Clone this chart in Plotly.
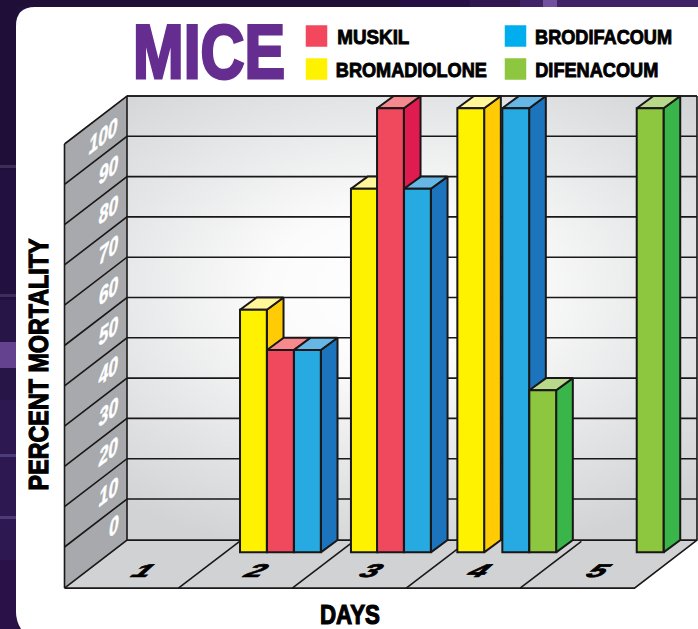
import json
import numpy as np
import plotly.graph_objects as go

# ---------- data ----------
DAYS = [1, 2, 3, 4, 5]
TICKS = [0, 10, 20, 30, 40, 50, 60, 70, 80, 90, 100]
BROMADIOLONE = [None, 50, 80, 100, None]
MUSKIL = [None, 40, 100, None, None]
BRODIFACOUM = [None, 40, 80, 100, None]
DIFENACOUM = [None, None, None, 30, 100]
SERIES_NAMES = ["BROMADIOLONE", "MUSKIL", "BRODIFACOUM", "DIFENACOUM"]
SERIES_VALUES = [BROMADIOLONE, MUSKIL, BRODIFACOUM, DIFENACOUM]
TITLE = "MICE"
X_TITLE = "DAYS"
Y_TITLE = "PERCENT MORTALITY"

# ---------- styles ----------
W, H = 698, 629
INK = "#1a1718"
FACE = {"BROMADIOLONE": "#fff200", "MUSKIL": "#f0495d", "BRODIFACOUM": "#27aae1", "DIFENACOUM": "#8dc63f"}
SIDE = {"BROMADIOLONE": "#ffcb05", "MUSKIL": "#e01b4f", "BRODIFACOUM": "#1c75bc", "DIFENACOUM": "#39b54a"}
TOP = {"BROMADIOLONE": "#fff799", "MUSKIL": "#f6898d", "BRODIFACOUM": "#66b7e6", "DIFENACOUM": "#b8d98a"}
SWATCH = {"BROMADIOLONE": "#fff200", "MUSKIL": "#f2475c", "BRODIFACOUM": "#00aeef", "DIFENACOUM": "#8dc63f"}
SANS = "Liberation Sans, Arial, sans-serif"

# ---------- projection, all in axis units ----------
SLOT_PX, UNIT_PX = 113.9, 4.03          # px per day slot, px per percent
LEFT_PX, ZERO_PX = 64.5, 499.0          # px of x=0, px of value 0 on the back wall
BASE = -10.2                            # value of the wall foot
TOPV = 100.0
DEPTH_X, DEPTH_Y = 62.5 / SLOT_PX, 48 / UNIT_PX     # floor depth
BAR_DX, BAR_DY = 16.7 / SLOT_PX, 3.03              # bar depth
BAR_W = 26.8 / SLOT_PX
BAR_PLANE = 0.404                       # x shift of the bar plane
# where each bar sits inside its day slot (fraction of a slot)
SLOT_POS = {2: {"BROMADIOLONE": .137, "MUSKIL": .374, "BRODIFACOUM": .611},
            3: {"BROMADIOLONE": .111, "MUSKIL": .340, "BRODIFACOUM": .577},
            4: {"BROMADIOLONE": .045, "BRODIFACOUM": .440, "DIFENACOUM": .677},
            5: {"DIFENACOUM": .620}}

xr = [-LEFT_PX / SLOT_PX, (W - LEFT_PX) / SLOT_PX]
yr = [(ZERO_PX - H) / UNIT_PX, ZERO_PX / UNIT_PX]
yr_front = [yr[0] + BAR_DY, yr[1] + BAR_DY]


def ax(px):
    return (px - LEFT_PX) / SLOT_PX


def ay(py):
    return (ZERO_PX - py) / UNIT_PX


fig = go.Figure()
LINE = dict(color=INK, width=2)


def poly(xs, ys, fill, line=None):
    fig.add_trace(go.Scatter(x=xs + xs[:1], y=ys + ys[:1], mode="lines", fill="toself", fillcolor=fill,
                             line=line or dict(width=0, color=fill), hoverinfo="skip", showlegend=False))


# back wall gradient (edges given, so that it stops exactly at the wall)
wx0, wx1 = DEPTH_X, ax(697)
ex = np.linspace(wx0, wx1, 191)
ey = np.linspace(BASE, TOPV, 149)
gxx, gyy = np.meshgrid((ex[:-1] + ex[1:]) / 2, (ey[:-1] + ey[1:]) / 2)
cx, cy = ax(395), ay(290)
dist = np.sqrt(((gxx - cx) / (wx1 - cx)) ** 2 + ((gyy - cy) / (TOPV - cy)) ** 2) / 1.414
fig.add_trace(go.Heatmap(x=ex, y=ey, z=1 - dist, zmin=0, zmax=1, showscale=False, hoverinfo="skip",
                         colorscale=[[0, "#d1d3d5"], [0.35, "#e6e7e8"], [0.7, "#fbfbfb"], [1, "#ffffff"]]))

# floor and left wall
poly([DEPTH_X, wx1, wx1 - DEPTH_X, 0], [BASE, BASE, BASE - DEPTH_Y, BASE - DEPTH_Y], "#d1d2d4")
poly([DEPTH_X, DEPTH_X, 0, 0], [BASE, TOPV, TOPV - DEPTH_Y, BASE - DEPTH_Y], "#a7a9ac")

# gridlines on the back and left walls
levels = [BASE] + TICKS
lx, ly = [], []
for v in levels:
    lx += [0, DEPTH_X, wx1, None]
    ly += [v - DEPTH_Y, v, v, None]
lx += [DEPTH_X, wx1, None, 0, 0, None, DEPTH_X, DEPTH_X, None, 0, wx1 - DEPTH_X, wx1, wx1, None]
ly += [TOPV, TOPV, None, BASE - DEPTH_Y, TOPV - DEPTH_Y, None, BASE, TOPV, None, BASE - DEPTH_Y, BASE - DEPTH_Y, BASE, TOPV, None]
for d in DAYS[:-1]:
    lx += [d, d + DEPTH_X * 0.98, None]
    ly += [BASE - DEPTH_Y, BASE - 0.3, None]
fig.add_trace(go.Scatter(x=lx, y=ly, mode="lines", line=dict(color=INK, width=1.6), hoverinfo="skip",
                         showlegend=False, connectgaps=False))

# bars: list the drawn boxes from the data
boxes = []
for i, day in enumerate(DAYS):
    for name, vals in zip(SERIES_NAMES, SERIES_VALUES):
        if vals[i] is not None:
            boxes.append((name, day - 1 + BAR_PLANE + SLOT_POS[day][name], vals[i]))
boxes.sort(key=lambda b: b[1])

for name, x0, v in boxes:
    x1 = x0 + BAR_W
    f0, f1 = BASE - BAR_DY, v - BAR_DY
    poly([x1, x1 + BAR_DX, x1 + BAR_DX, x1], [f0, f0 + BAR_DY, f1 + BAR_DY, f1], SIDE[name], LINE)
for name, x0, v in boxes:
    x1 = x0 + BAR_W
    f1 = v - BAR_DY
    poly([x0, x1, x1 + BAR_DX, x0 + BAR_DX], [f1, f1, f1 + BAR_DY, f1 + BAR_DY], TOP[name], LINE)

for name in SERIES_NAMES:
    sel = [b for b in boxes if b[0] == name]
    fig.add_trace(go.Bar(x=[b[1] + BAR_W / 2 for b in sel], y=[b[2] - BASE for b in sel], base=BASE, width=BAR_W,
                         name=name, xaxis="x2", yaxis="y2", marker=dict(color=FACE[name], line=LINE),
                         showlegend=False, hoverinfo="skip"))

# legend swatches
LEG_POS = {"MUSKIL": (316.5, 36), "BROMADIOLONE": (316.5, 69), "BRODIFACOUM": (515.5, 36), "DIFENACOUM": (515.5, 69)}
LEG_TEXT = {"MUSKIL": (373, 72), "BROMADIOLONE": (411.5, 151), "BRODIFACOUM": (603.5, 137), "DIFENACOUM": (596.5, 123)}
for name in SERIES_NAMES:
    px, py = LEG_POS[name]
    fig.add_trace(go.Scatter(x=[ax(px)], y=[ay(py)], mode="markers", hoverinfo="skip", showlegend=False,
                             marker=dict(symbol="square", size=21.5, color=SWATCH[name], line=dict(width=0))))

anns = []
text_fx = {}   # how each text is narrowed / sheared in the page


def note(text, px, py, size, color="#000000", angle=0, style="normal", length=None, stroke=0.0, css=None):
    anns.append(dict(text=text, x=px / W, y=1 - py / H, xref="paper", yref="paper", showarrow=False, xanchor="center",
                     yanchor="middle", textangle=angle,
                     font=dict(size=size, color=color, family=SANS, weight="bold", style=style)))
    text_fx[text] = dict(length=length, stroke=stroke, color=color, css=css)


note(TITLE, 208.5, 51.5, 76, color="#662d91", length=152, stroke=3.0)
for name in SERIES_NAMES:
    px, py = LEG_POS[name]
    cx_, ln = LEG_TEXT[name]
    note(name, cx_, py + 1.5, 20, length=ln, stroke=0.9)
note(Y_TITLE, 37.5, 365, 28.5, angle=-90, length=252, stroke=1.2)
note(X_TITLE, 350, 614.5, 27.5, length=60, stroke=1.2)

# wall tick labels: sheared onto the left wall
for v in TICKS:
    n = len(str(v))
    band_top = ZERO_PX - v * UNIT_PX
    note(str(v), 119 - 5.3 * n, band_top + 19.5 + 6.8 * n, 24, color="#ffffff", style="italic", stroke=0.5,
         css="skewY(-37deg) scaleX(.72)")
# floor day labels: flattened onto the floor
FLOOR_PX = [143, 256, 371, 479, 599]
for d, fx in zip(DAYS, FLOOR_PX):
    note(str(d), fx, 570.5, 27, style="italic", stroke=1.0, css="skewX(-38deg) scaleY(.68) scaleX(1.2)")

# page background
shapes = []


def rect(x0, y0, x1, y1, color, opacity=1.0):
    shapes.append(dict(type="rect", xref="paper", yref="paper", x0=x0 / W, x1=x1 / W, y0=1 - y0 / H, y1=1 - y1 / H,
                       fillcolor=color, opacity=opacity, line=dict(width=0), layer="below"))


for y0, y1, col in [(0, 170, "#1f0f38"), (170, 300, "#221040"), (300, 400, "#281548"), (400, 560, "#2e1852"),
                    (560, 629, "#2a1248")]:
    rect(0, y0, 18, y1, col)
rect(18, 0, 400, 7, "#1f0e36")
rect(400, 0, 470, 7, "#260f45")
rect(470, 0, 520, 7, "#30174f")
rect(520, 0, 698, 7, "#3f2468")
rect(543, 0, 557, 7, "#7150a0")
for y0, y1, col, op in [(165, 168, "#4a3a68", .7), (294, 297, "#4a3a68", .7), (454, 457, "#5a4a88", .7),
                        (516, 519, "#5a4a88", .7), (342, 368, "#6e4a9e", .85)]:
    rect(0, y0, 16, y1, col, op)


def p(px, py):
    return f"{px / W:.5f} {1 - py / H:.5f}"


path = (f"M {p(21, 629)} Q {p(16, 621)} {p(16, 612)} L {p(16, 26)} Q {p(16, 7)} {p(35, 7)} "
        f"L {p(698, 7)} L {p(698, 629)} Z")
shapes.append(dict(type="path", path=path, xref="paper", yref="paper", fillcolor="#ffffff",
                   line=dict(width=0), layer="below"))

fig.update_layout(
    width=W, height=H, margin=dict(l=0, r=0, t=0, b=0), autosize=False,
    paper_bgcolor="#22103c", plot_bgcolor="rgba(0,0,0,0)", showlegend=False, barmode="overlay",
    xaxis=dict(range=xr, visible=False, fixedrange=True),
    yaxis=dict(range=yr, visible=False, fixedrange=True),
    xaxis2=dict(range=xr, visible=False, fixedrange=True, overlaying="x"),
    yaxis2=dict(range=yr_front, visible=False, fixedrange=True, overlaying="y"),
    annotations=anns, shapes=shapes,
)

POST = """
document.body.style.margin='0';document.body.style.overflow='hidden';document.body.style.background='#22103c';
var fx = %s;
document.querySelectorAll('text.annotation-text').forEach(function(t){
  var c = fx[t.textContent]; if(!c) return;
  if(c.length){t.setAttribute('textLength', c.length); t.setAttribute('lengthAdjust','spacingAndGlyphs');}
  if(c.stroke){t.style.stroke=c.color; t.style.strokeWidth=c.stroke+'px';}
  if(c.css){t.style.transformBox='fill-box'; t.style.transformOrigin='center'; t.style.transform=c.css;}
});
""" % json.dumps(text_fx)
fig.write_html("out.html", config={"displayModeBar": False}, post_script=POST)
